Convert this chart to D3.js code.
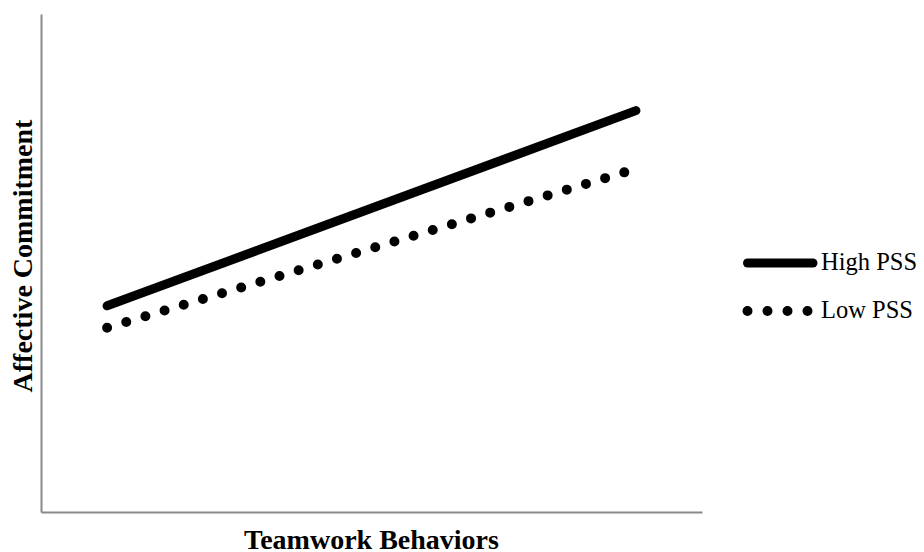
<!DOCTYPE html>
<html>
<head>
<meta charset="utf-8">
<script src="https://cdn.jsdelivr.net/npm/d3@7"></script>
<style>
    body { margin: 0; background: #fff; }
    text { font-family: 'Liberation Serif', 'Times New Roman', serif; fill: #000; }
</style>
</head>
<body>
<div id="chart"></div>
<script>
// simple slopes: teamwork behaviors (low -> high) vs affective commitment
const xPoints = [10, 90];
const seriesNames = ['High PSS', 'Low PSS'];
const highPSS = [41.4, 80.6];
const lowPSS = [37.0, 68.9];

const width = 924;
const height = 552;

const svg = d3
    .select('#chart')
    .append('svg')
    .attr('width', width)
    .attr('height', height);

const x = d3.scaleLinear().domain([0, 100]).range([41, 702]);
const y = d3.scaleLinear().domain([0, 100]).range([512, 14]);

// axes (no ticks, just the domain lines)
const xAxis = svg
    .append('g')
    .attr('transform', `translate(0, ${y(0)})`)
    .call(d3.axisBottom(x).tickValues([]).tickSizeOuter(0));

const yAxis = svg
    .append('g')
    .attr('transform', `translate(${x(0)}, 0)`)
    .call(d3.axisLeft(y).tickValues([]).tickSizeOuter(0));

svg.selectAll('.domain')
    .attr('stroke', '#898989')
    .attr('stroke-width', 2);

// lines
const line = d3
    .line()
    .x((d) => x(d[0]))
    .y((d) => y(d[1]));

const styles = {
    'High PSS': { width: 9, dash: null },
    'Low PSS': { width: 10, dash: '0 20' },
};

const seriesData = [
    { name: seriesNames[0], values: d3.zip(xPoints, highPSS) },
    { name: seriesNames[1], values: d3.zip(xPoints, lowPSS) },
];

svg.selectAll('path.series')
    .data(seriesData)
    .enter()
    .append('path')
    .attr('class', 'series')
    .attr('d', (d) => line(d.values))
    .attr('fill', 'none')
    .attr('stroke', '#000')
    .attr('stroke-width', (d) => styles[d.name].width)
    .attr('stroke-linecap', 'round')
    .attr('stroke-dasharray', (d) => styles[d.name].dash);

// axis titles
svg.append('text')
    .attr('x', (x.range()[0] + x.range()[1]) / 2)
    .attr('y', 549)
    .attr('text-anchor', 'middle')
    .style('font-size', '28px')
    .style('font-weight', 'bold')
    .text('Teamwork Behaviors');

svg.append('text')
    .attr('transform', 'translate(32, 256) rotate(-90)')
    .attr('text-anchor', 'middle')
    .style('font-size', '28px')
    .style('font-weight', 'bold')
    .text('Affective Commitment');

// legend
const legend = svg
    .selectAll('g.legend')
    .data(seriesData)
    .enter()
    .append('g')
    .attr('class', 'legend')
    .attr('transform', (d, i) => `translate(0, ${263 + i * 48})`);

legend
    .append('line')
    .attr('x1', 747.5)
    .attr('x2', (d) => (d.name === 'High PSS' ? 813 : 808))
    .attr('y1', 0)
    .attr('y2', 0)
    .attr('stroke', '#000')
    .attr('stroke-width', (d) => styles[d.name].width)
    .attr('stroke-linecap', 'round')
    .attr('stroke-dasharray', (d) => styles[d.name].dash);

legend
    .append('text')
    .attr('x', 821)
    .attr('y', 6.5)
    .style('font-size', '24.5px')
    .text((d) => d.name);
</script>
</body>
</html>
